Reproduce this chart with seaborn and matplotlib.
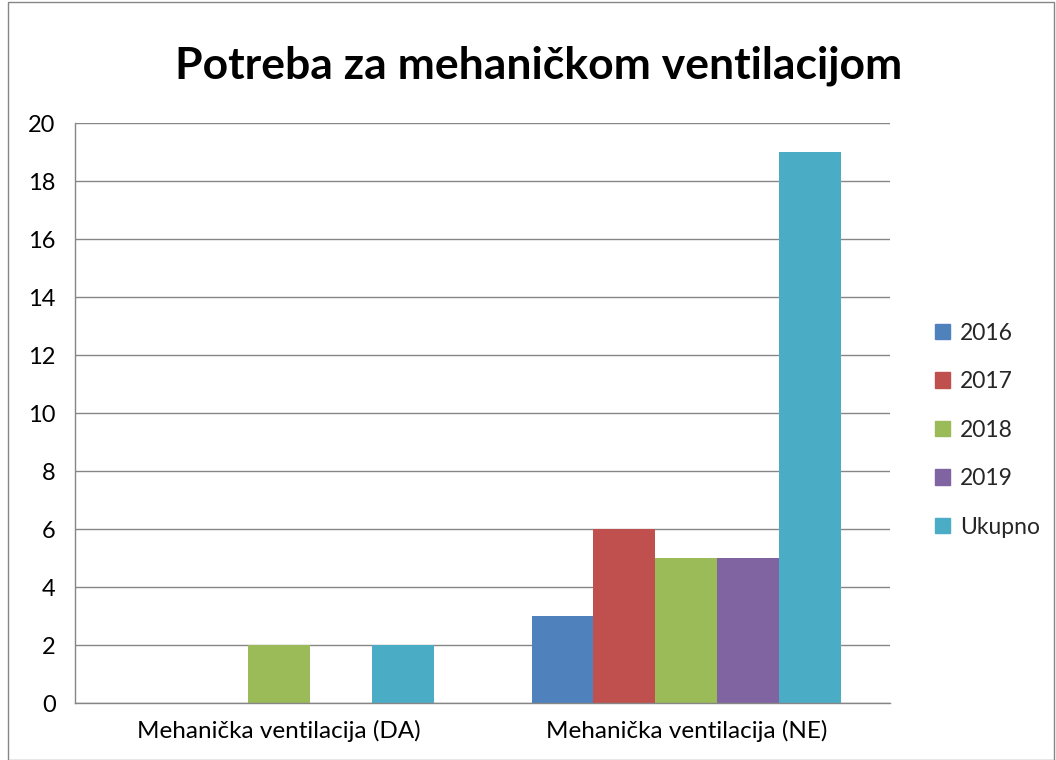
import matplotlib
matplotlib.use("Agg")
import matplotlib.pyplot as plt
import seaborn as sns
import pandas as pd
from matplotlib.patches import Rectangle

categories = ["Mehanička ventilacija (DA)", "Mehanička ventilacija (NE)"]
series = ["2016", "2017", "2018", "2019", "Ukupno"]
values = {
    "2016": [0, 3],
    "2017": [0, 6],
    "2018": [2, 5],
    "2019": [0, 5],
    "Ukupno": [2, 19],
}
colors = ["#4F81BD", "#C0504D", "#9BBB59", "#8064A2", "#4BACC6"]

rows = []
for s in series:
    for c, v in zip(categories, values[s]):
        rows.append({"kategorija": c, "godina": s, "broj": v})
df = pd.DataFrame(rows)

sns.set_style("white")
plt.rcParams["font.family"] = ["Lato", "DejaVu Sans"]

fig = plt.figure(figsize=(10.56, 7.6), dpi=100)
ax = fig.add_axes([0.071, 0.075, 0.772, 0.763])

sns.barplot(data=df, x="kategorija", y="broj", hue="godina", hue_order=series,
            palette=colors, width=0.76, saturation=1, linewidth=0, ax=ax, legend=False)

gray = "#868686"
ax.set_ylim(0, 20)
ax.set_xlim(-0.5, 1.5)
ax.set_yticks(range(0, 21, 2))
ax.yaxis.grid(True, color=gray, linewidth=1)
ax.set_axisbelow(True)
ax.set_xlabel("")
ax.set_ylabel("")
for side in ["top", "right"]:
    ax.spines[side].set_visible(False)
for side in ["left", "bottom"]:
    ax.spines[side].set_color(gray)
    ax.spines[side].set_linewidth(1)
ax.tick_params(axis="y", length=6, color=gray, labelsize=17, pad=8, labelcolor="black")
ax.tick_params(axis="x", which="major", length=0, labelsize=17.5, pad=12, labelcolor="black")
ax.set_xticks([-0.5, 0.5, 1.5], minor=True)
ax.tick_params(axis="x", which="minor", length=6, color=gray)

fig.suptitle("Potreba za mehaničkom ventilacijom", fontsize=32, fontweight="bold",
             x=0.51, y=0.94, color="black")

handles = [Rectangle((0, 0), 1, 1, color=c) for c in colors]
fig.legend(handles, series, loc="center left", bbox_to_anchor=(0.866, 0.434),
           frameon=False, fontsize=16.5, handlelength=0.65, handleheight=0.65,
           handletextpad=0.45, labelspacing=1.2)

fig.patches.append(Rectangle((0.008, 0.0), 0.99, 0.997, transform=fig.transFigure,
                             fill=False, edgecolor=gray, linewidth=1))

fig.savefig("out.png", dpi=100)
